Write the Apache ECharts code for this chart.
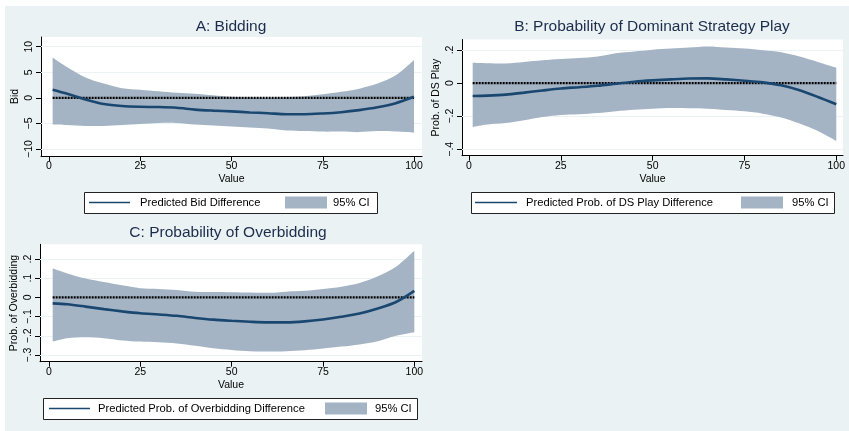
<!DOCTYPE html>
<html><head><meta charset="utf-8">
<script src="https://cdn.jsdelivr.net/npm/echarts@6/dist/echarts.min.js"></script>
<style>html,body{margin:0;padding:0;background:#fff}#c{width:849px;height:431px}</style>
</head><body><div id="c"></div>
<script>
// ---- data ----
const xValues = [1,5,10,15,20,25,30,35,40,45,50,55,60,65,70,75,80,85,90,95,100];
const xTicks = [0,25,50,75,100];

const bidLine  = [1.6,0.8,-0.3,-1.2,-1.6,-1.75,-1.8,-1.95,-2.3,-2.5,-2.65,-2.85,-3.0,-3.2,-3.2,-3.05,-2.8,-2.4,-1.85,-1.05,0.2];
const bidUpper = [7.9,6.0,4.0,2.8,1.9,1.6,1.3,1.0,0.8,0.5,0.2,0.1,0.0,0.1,0.3,0.7,1.2,1.8,2.8,4.4,7.4];
const bidLower = [-5.2,-5.3,-5.5,-5.5,-5.3,-5.1,-4.9,-4.9,-5.2,-5.4,-5.6,-5.8,-6.0,-6.4,-6.5,-6.6,-6.6,-6.7,-6.5,-6.6,-6.8];
const bidTicks = [-10,-5,0,5,10];
const bidTickLabels = ['−10','−5','0','5','10'];

const dsLine  = [-0.078,-0.076,-0.070,-0.058,-0.045,-0.033,-0.025,-0.016,-0.004,0.008,0.016,0.022,0.027,0.028,0.022,0.014,0.004,-0.014,-0.044,-0.084,-0.128];
const dsUpper = [0.123,0.120,0.118,0.127,0.137,0.145,0.151,0.160,0.180,0.190,0.201,0.208,0.214,0.220,0.214,0.208,0.198,0.186,0.160,0.127,0.092];
const dsLower = [-0.265,-0.250,-0.242,-0.225,-0.205,-0.193,-0.188,-0.181,-0.170,-0.161,-0.155,-0.151,-0.152,-0.155,-0.163,-0.171,-0.185,-0.208,-0.245,-0.290,-0.350];
const dsTicks = [-0.4,-0.2,0,0.2];
const dsTickLabels = ['−.4','−.2','0','.2'];

const obLine  = [-0.031,-0.036,-0.048,-0.061,-0.073,-0.083,-0.089,-0.096,-0.107,-0.116,-0.122,-0.127,-0.130,-0.130,-0.125,-0.115,-0.101,-0.084,-0.058,-0.024,0.034];
const obUpper = [0.150,0.125,0.098,0.080,0.063,0.048,0.044,0.039,0.029,0.028,0.027,0.025,0.024,0.030,0.034,0.044,0.056,0.075,0.110,0.160,0.243];
const obLower = [-0.230,-0.213,-0.208,-0.213,-0.224,-0.230,-0.234,-0.240,-0.252,-0.265,-0.274,-0.281,-0.282,-0.280,-0.275,-0.266,-0.256,-0.245,-0.228,-0.200,-0.182];
const obTicks = [-0.3,-0.2,-0.1,0,0.1,0.2];
const obTickLabels = ['−.3','−.2','−.1','0','.1','.2'];

const zeroX = [1,100];
const zeroY = [0,0];

const titles = ['A: Bidding','B: Probability of Dominant Strategy Play','C: Probability of Overbidding'];
const yNames = ['Bid','Prob. of DS Play','Prob. of Overbidding'];
const xName = 'Value';
const lineNames = ['Predicted Bid Difference','Predicted Prob. of DS Play Difference','Predicted Prob. of Overbidding Difference'];
const ciName = '95% CI';

// ---- style ----
const FONT = '"Liberation Sans", Arial, sans-serif';
const BG = '#EAF2F3';
const LINE_C = '#1A476F';
const CI_C = '#A4B4C5';
const TITLE_C = '#1C2C4C';

const panels = [
  {grid:{left:41,top:37,width:381,height:119}, x:[-2.19,102.19], y:[-11.37,11.9], line:bidLine, up:bidUpper, lo:bidLower, ticks:bidTicks, labels:bidTickLabels},
  {grid:{left:462,top:39.5,width:381,height:116.2}, x:[-1.91,101.83], y:[-0.439,0.263], line:dsLine, up:dsUpper, lo:dsLower, ticks:dsTicks, labels:dsTickLabels},
  {grid:{left:40,top:244.3,width:382,height:117.4}, x:[-2.47,102.1], y:[-0.335,0.2766], line:obLine, up:obUpper, lo:obLower, ticks:obTicks, labels:obTickLabels}
];

// smooth path through pixel points (rendering only)
function smoothSeg(pts, t, start) {
  let d = start ? 'M' + pts[0][0] + ',' + pts[0][1] : 'L' + pts[0][0] + ',' + pts[0][1];
  for (let i = 0; i < pts.length - 1; i++) {
    const p0 = pts[Math.max(i - 1, 0)], p1 = pts[i], p2 = pts[i + 1], p3 = pts[Math.min(i + 2, pts.length - 1)];
    const c1 = [p1[0] + (p2[0] - p0[0]) * t, p1[1] + (p2[1] - p0[1]) * t];
    const c2 = [p2[0] - (p3[0] - p1[0]) * t, p2[1] - (p3[1] - p1[1]) * t];
    d += 'C' + c1[0] + ',' + c1[1] + ' ' + c2[0] + ',' + c2[1] + ' ' + p2[0] + ',' + p2[1];
  }
  return d;
}

const grids=[], xAxes=[], yAxes=[], series=[];
panels.forEach((p,i)=>{
  grids.push(Object.assign({show:true,backgroundColor:'#fff',borderWidth:0}, p.grid));
  xAxes.push({type:'value',gridIndex:i,min:p.x[0],max:p.x[1],
    name:xName,nameLocation:'middle',nameGap:18,
    nameTextStyle:{fontFamily:FONT,fontSize:10.5,color:'#000'},
    axisLine:{show:true,onZero:false,lineStyle:{color:'#000',width:1}},
    axisTick:{show:true,length:5,customValues:xTicks,lineStyle:{color:'#000'}},
    axisLabel:{customValues:xTicks,margin:5,fontFamily:FONT,fontSize:10.5,color:'#000'},
    splitLine:{show:false}});
  const lab = p.labels;
  const tk = p.ticks;
  yAxes.push({type:'value',gridIndex:i,min:p.y[0],max:p.y[1],
    name:yNames[i],nameLocation:'middle',nameGap:20,
    nameTextStyle:{fontFamily:FONT,fontSize:10.5,color:'#000'},
    axisLine:{show:true,onZero:false,lineStyle:{color:'#000',width:1}},
    axisTick:{show:true,length:5,customValues:tk,lineStyle:{color:'#000'}},
    axisLabel:{customValues:tk,rotate:90,margin:6,fontFamily:FONT,fontSize:10.5,color:'#000',
      formatter:v=>{const k=tk.findIndex(t=>Math.abs(t-v)<1e-9);return k>=0?lab[k]:'';}},
    splitLine:{show:false}});
  const bandData = xValues.map((x,k)=>[x,p.lo[k],p.up[k]]);
  series.push({type:'custom',xAxisIndex:i,yAxisIndex:i,z:2,silent:true,clip:true,
    data:bandData,
    renderItem:(params,api)=>{
      if (params.dataIndex !== 0) return null;
      const upPts = bandData.map(d=>api.coord([d[0],d[2]]));
      const loPts = bandData.map(d=>api.coord([d[0],d[1]])).reverse();
      const path = smoothSeg(upPts,0.16,true) + smoothSeg(loPts,0.16,false) + 'Z';
      return {type:'path',shape:{pathData:path},style:{fill:CI_C,stroke:null}};
    }});
  series.push({type:'line',xAxisIndex:i,yAxisIndex:i,z:3,
    data:zeroX.map((x,k)=>[x,zeroY[k]]),symbol:'none',
    lineStyle:{color:'#000',width:2.2,type:[2,1]},silent:true,
    markLine:{silent:true,z:1,symbol:'none',label:{show:false},
      lineStyle:{color:BG,width:1,type:'solid'},
      data:tk.filter(t=>t!==0).map(t=>({yAxis:t}))}});
  series.push({type:'line',xAxisIndex:i,yAxisIndex:i,z:4,
    data:xValues.map((x,k)=>[x,p.line[k]]),symbol:'none',smooth:0.3,
    lineStyle:{color:LINE_C,width:2.6},silent:true});
});

// legends + titles as graphics
const legends = [
  {box:[84,192,293,21], l:[89,130], t:140, patch:285, ct:333},
  {box:[471,192,363,21], l:[475,517], t:526, patch:741, ct:792},
  {box:[43,398,374,21], l:[49,90], t:98, patch:325, ct:375}
];
const titlePos = [[231,27],[652,27],[228,233]];
const graphics = [{type:'rect',z:-10,shape:{x:5,y:6,width:844,height:425},style:{fill:BG}}];
legends.forEach((L,i)=>{
  const [bx,by,bw,bh]=L.box, cy=by+bh/2;
  graphics.push({type:'rect',shape:{x:bx+0.5,y:by+0.5,width:bw,height:bh},style:{fill:'#fff',stroke:'#222',lineWidth:1}});
  graphics.push({type:'line',shape:{x1:L.l[0],y1:cy,x2:L.l[1],y2:cy},style:{stroke:LINE_C,lineWidth:1.5}});
  graphics.push({type:'text',style:{text:lineNames[i],x:L.t,y:cy,textVerticalAlign:'middle',font:'11.2px '+FONT,fill:'#000'}});
  graphics.push({type:'rect',shape:{x:L.patch,y:cy-6,width:42,height:12},style:{fill:CI_C}});
  graphics.push({type:'text',style:{text:ciName,x:L.ct,y:cy,textVerticalAlign:'middle',font:'11.2px '+FONT,fill:'#000'}});
  graphics.push({type:'text',style:{text:titles[i],x:titlePos[i][0],y:titlePos[i][1],textAlign:'center',textVerticalAlign:'middle',font:'15.5px '+FONT,fill:TITLE_C}});
});

const chart = echarts.init(document.getElementById('c'),null,{renderer:'canvas'});
chart.setOption({animation:false,backgroundColor:'#fff',grid:grids,xAxis:xAxes,yAxis:yAxes,series:series,graphic:graphics});
</script></body></html>
